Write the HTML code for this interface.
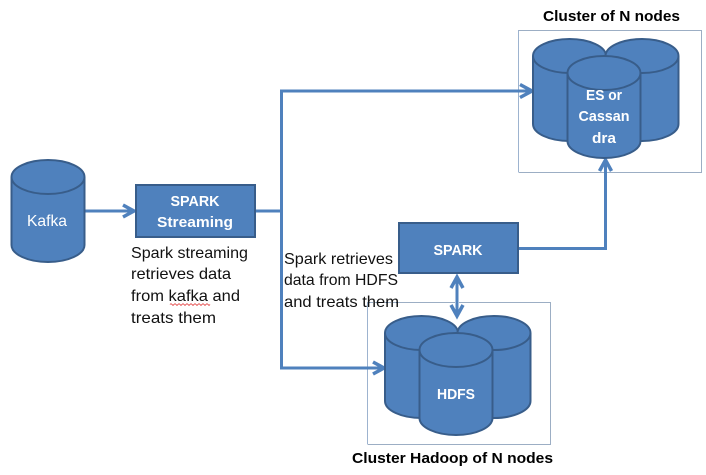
<!DOCTYPE html>
<html><head><meta charset="utf-8"><style>
html,body{margin:0;padding:0;background:#fff}
svg{display:block}
text{font-family:"Liberation Sans",sans-serif}
.b{font-weight:bold;font-size:15px;fill:#fff;text-anchor:middle}
.t{font-size:16px;fill:#111}
.h{font-weight:bold;font-size:15px;fill:#000}
</style></head><body>
<svg width="706" height="475" viewBox="0 0 706 475" xmlns="http://www.w3.org/2000/svg">
<defs>
<g id="cyl">
<path d="M0 17 A36.5 17 0 0 1 73 17 V85 A36.5 17 0 0 1 0 85 Z" fill="#4f81bd" stroke="#385d8a" stroke-width="2"/>
<path d="M0 17 A36.5 17 0 0 0 73 17" fill="none" stroke="#385d8a" stroke-width="2"/>
</g>
</defs>
<rect x="518.5" y="30.5" width="183" height="142" fill="none" stroke="#385d8a" stroke-width="1" stroke-dasharray="1 1"/>
<path d="M518.5 30.5V172.5" stroke="#9db3cf" stroke-width="1" fill="none"/>
<rect x="367.5" y="302.5" width="183" height="142" fill="none" stroke="#385d8a" stroke-width="1" stroke-dasharray="1 1"/>
<path d="M367.5 302.5V444.5" stroke="#9db3cf" stroke-width="1" fill="none"/>

<g fill="none" stroke="#4f81bd" stroke-width="3">
<path d="M85 211H134"/>
<path d="M123 205L134 211L123 217" stroke-width="3.5"/>
<path d="M255 211H281.5"/>
<path d="M532 91H281.5V368H384"/>
<path d="M520 84.500L532 91L520 97.500" stroke-width="3.5"/>
<path d="M373 362L384 368L373 374" stroke-width="3.5"/>
<path d="M518 248.500H605.500V160"/>
<path d="M599.500 171L605.500 160L611.500 171" stroke-width="3.5"/>
<path d="M457 277V316"/>
<path d="M451 288L457 277L463 288" stroke-width="3.5"/>
<path d="M451 305L457 316L463 305" stroke-width="3.5"/>
</g>

<use href="#cyl" x="11.5" y="160"/>
<text x="47" y="226" fill="#fff" font-size="16" text-anchor="middle" textLength="40" lengthAdjust="spacingAndGlyphs">Kafka</text>

<rect x="136" y="185" width="119" height="52" fill="#4f81bd" stroke="#385d8a" stroke-width="2"/>
<text class="b" x="195" y="206" textLength="49" lengthAdjust="spacingAndGlyphs">SPARK</text>
<text class="b" x="195" y="227" textLength="76" lengthAdjust="spacingAndGlyphs">Streaming</text>

<rect x="399" y="223" width="119" height="50" fill="#4f81bd" stroke="#385d8a" stroke-width="2"/>
<text class="b" x="458" y="255" textLength="49" lengthAdjust="spacingAndGlyphs">SPARK</text>

<use href="#cyl" x="533" y="39"/>
<use href="#cyl" x="605.5" y="39"/>
<use href="#cyl" x="567.5" y="56"/>
<text class="b" x="604" y="100" textLength="36" lengthAdjust="spacingAndGlyphs">ES or</text>
<text class="b" x="604" y="121" textLength="51" lengthAdjust="spacingAndGlyphs">Cassan</text>
<text class="b" x="604" y="143" textLength="24" lengthAdjust="spacingAndGlyphs">dra</text>

<use href="#cyl" x="385" y="316"/>
<use href="#cyl" x="457.5" y="316"/>
<use href="#cyl" x="419.5" y="333"/>
<text class="b" x="456" y="399" textLength="38" lengthAdjust="spacingAndGlyphs">HDFS</text>

<text class="h" x="543" y="21" textLength="137" lengthAdjust="spacingAndGlyphs">Cluster of N nodes</text>
<text class="h" x="352" y="463" textLength="201" lengthAdjust="spacingAndGlyphs">Cluster Hadoop of N nodes</text>

<text class="t" x="131" y="258" textLength="117" lengthAdjust="spacingAndGlyphs">Spark streaming</text>
<text class="t" x="131" y="279" textLength="100" lengthAdjust="spacingAndGlyphs">retrieves data</text>
<text class="t" x="131" y="301" textLength="109" lengthAdjust="spacingAndGlyphs">from kafka and</text>
<text class="t" x="131" y="323" textLength="85" lengthAdjust="spacingAndGlyphs">treats them</text>
<path d="M170 304.500q1-1.500 2 0t2 0t2 0t2 0t2 0t2 0t2 0t2 0t2 0t2 0t2 0t2 0t2 0t2 0t2 0t2 0t2 0t2 0t2 0t2 0" fill="none" stroke="#e03030" stroke-width="0.8"/>

<text class="t" x="284" y="264" textLength="109" lengthAdjust="spacingAndGlyphs">Spark retrieves</text>
<text class="t" x="284" y="285" textLength="114" lengthAdjust="spacingAndGlyphs">data from HDFS</text>
<text class="t" x="284" y="307" textLength="115" lengthAdjust="spacingAndGlyphs">and treats them</text>
</svg>
</body></html>
